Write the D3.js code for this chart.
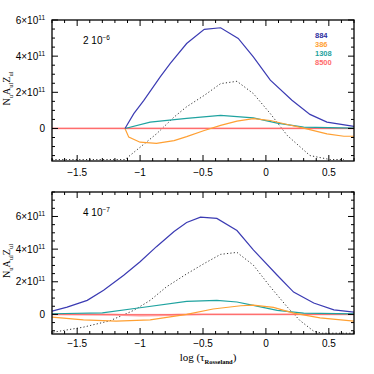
<!DOCTYPE html>
<html><head><meta charset="utf-8">
<script src="https://cdn.jsdelivr.net/npm/d3@7"></script>
<style>body{margin:0;background:#fff}svg{display:block}</style>
</head><body>
<script>
// ---- data (x = log tau_Ross, y in units of 1e11) ----
const xTicks = [-1.5, -1, -0.5, 0, 0.5];
const xTickLabels = ["\u22121.5", "\u22121", "\u22120.5", "0", "0.5"];
const legendLabels = ["884", "386", "1308", "8500"];
const legendColors = ["#2e2e9e", "#ffa033", "#1fa3a0", "#ff6b6b"];
const panelLabels = [["2 10", "\u22126"], ["4 10", "\u22127"]];
const topYTicks = [0, 2, 4, 6];
const botYTicks = [0, 2, 4, 6];

const blueTop = [[-1.12,0],[-1.05,0.82],[-0.97,1.55],[-0.84,2.85],[-0.76,3.6],[-0.63,4.7],[-0.49,5.48],[-0.36,5.57],[-0.22,4.98],[-0.10,3.96],[0.035,2.67],[0.207,1.56],[0.35,0.78],[0.485,0.35],[0.70,0.11]];
const dotTop = [[-1.7,-1.72],[-1.12,-1.72],[-1.0,-1.04],[-0.87,-0.3],[-0.73,0.63],[-0.63,1.2],[-0.49,1.83],[-0.36,2.48],[-0.23,2.61],[-0.10,1.93],[0.035,0.82],[0.17,-0.39],[0.35,-1.5],[0.51,-1.72],[0.62,-1.72]];
const tealTop = [[-1.12,0],[-0.92,0.35],[-0.63,0.56],[-0.36,0.72],[-0.1,0.59],[0.09,0.3],[0.3,0.07],[0.7,0.02]];
const orangeTop = [[-1.12,0],[-1.09,-0.48],[-1.0,-0.76],[-0.87,-0.82],[-0.73,-0.67],[-0.63,-0.45],[-0.49,-0.11],[-0.36,0.17],[-0.23,0.41],[-0.1,0.54],[0.035,0.44],[0.17,0.22],[0.3,0.02],[0.485,-0.3],[0.62,-0.43],[0.7,-0.43]];
const redTop = [[-1.7,0],[-1.12,0],[-0.6,0.01],[0,0.01],[0.7,0]];

const blueBot = [[-1.7,0.2],[-1.58,0.45],[-1.42,0.86],[-1.29,1.48],[-1.13,2.4],[-1.0,3.23],[-0.87,4.15],[-0.73,5.08],[-0.63,5.63],[-0.52,5.96],[-0.39,5.88],[-0.23,5.14],[-0.1,3.95],[0.09,2.4],[0.22,1.37],[0.38,0.7],[0.54,0.28],[0.7,0.14]];
const dotBot = [[-1.69,-1.09],[-1.45,-0.78],[-1.24,-0.39],[-1.05,0.25],[-0.92,0.86],[-0.79,1.69],[-0.63,2.48],[-0.49,3.12],[-0.36,3.68],[-0.23,3.8],[-0.1,3.02],[0.035,1.69],[0.17,0.45],[0.27,-0.37],[0.38,-1.03],[0.45,-1.15],[0.7,-1.15]];
const tealBot = [[-1.7,0.04],[-1.3,0.1],[-1.0,0.41],[-0.63,0.8],[-0.39,0.86],[-0.23,0.76],[-0.1,0.55],[0.09,0.25],[0.3,0.08],[0.7,0.03]];
const orangeBot = [[-1.7,-0.17],[-1.45,-0.33],[-1.19,-0.41],[-0.92,-0.33],[-0.63,0],[-0.42,0.33],[-0.2,0.53],[-0.1,0.57],[0.06,0.43],[0.22,0.08],[0.43,-0.21],[0.7,-0.41]];
const redBot = [[-1.7,0],[-1.2,-0.02],[-1.0,-0.07],[-0.85,-0.06],[-0.7,-0.02],[-0.5,0],[0.7,0]];

const W = 374, H = 374;
const svg = d3.select("body").append("svg").attr("width", W).attr("height", H);

const panels = [
  {top: 20, bottom: 161, ydom: [-1.8, 6], yt: topYTicks, series: [blueTop, orangeTop, tealTop, redTop], dots: dotTop, label: panelLabels[0], legend: true, tickY: 176},
  {top: 192, bottom: 334, ydom: [-1.2, 7.5], yt: botYTicks, series: [blueBot, orangeBot, tealBot, redBot], dots: dotBot, label: panelLabels[1], legend: false, tickY: 347}
];
const left = 52, right = 354;
const x = d3.scaleLinear().domain([-1.7, 0.7]).range([left, right]);

panels.forEach((p, pi) => {
  const y = d3.scaleLinear().domain(p.ydom).range([p.bottom, p.top]);
  const g = svg.append("g");
  const cid = "clip" + pi;
  svg.append("clipPath").attr("id", cid).append("rect")
    .attr("x", left).attr("y", p.top).attr("width", right - left).attr("height", p.bottom - p.top);

  const line = d3.line().x(d => x(d[0])).y(d => y(d[1]));
  const cg = g.append("g").attr("clip-path", `url(#${cid})`);
  cg.append("path").attr("d", line(p.dots)).attr("fill", "none")
    .attr("stroke", "#333").attr("stroke-width", 1).attr("stroke-dasharray", "1.2,2.2");
  cg.append("path").attr("d", line(p.series[3])).attr("fill", "none")
    .attr("stroke", "#ff9a9a").attr("stroke-width", 1.8);
  cg.append("path").attr("d", line([[-1.7,0],[0.7,0]])).attr("fill", "none")
    .attr("stroke", legendColors[3]).attr("stroke-width", 1);
  [2, 1, 0].forEach(i => {
    cg.append("path").attr("d", line(p.series[i])).attr("fill", "none")
      .attr("stroke", i === 0 ? "#3b3bb3" : legendColors[i]).attr("stroke-width", 1.2);
  });

  g.append("rect").attr("x", left).attr("y", p.top).attr("width", right - left).attr("height", p.bottom - p.top)
    .attr("fill", "none").attr("stroke", "#000").attr("stroke-width", 1.3);

  const xMinor = d3.range(-17, 8).map(v => v / 10);
  xMinor.forEach(v => {
    const major = Math.abs(v * 2 - Math.round(v * 2)) < 1e-6;
    const len = major ? 6 : 3;
    const xx = x(v);
    g.append("line").attr("x1", xx).attr("x2", xx).attr("y1", p.bottom).attr("y2", p.bottom - len).attr("stroke", "#000").attr("stroke-width", 1);
    g.append("line").attr("x1", xx).attr("x2", xx).attr("y1", p.top).attr("y2", p.top + len).attr("stroke", "#000").attr("stroke-width", 1);
  });
  const yMinor = d3.range(Math.ceil(p.ydom[0] * 2), Math.floor(p.ydom[1] * 2) + 1).map(v => v / 2);
  yMinor.forEach(v => {
    const major = Math.abs(v / 2 - Math.round(v / 2)) < 1e-6;
    const len = major ? 6 : 3;
    const yy = y(v);
    g.append("line").attr("x1", left).attr("x2", left + len).attr("y1", yy).attr("y2", yy).attr("stroke", "#000").attr("stroke-width", 1);
    g.append("line").attr("x1", right).attr("x2", right - len).attr("y1", yy).attr("y2", yy).attr("stroke", "#000").attr("stroke-width", 1);
  });

  xTicks.forEach((v, i) => {
    g.append("text").attr("x", x(v)).attr("y", p.tickY).attr("text-anchor", "middle")
      .attr("font-family", "Liberation Sans, Arial, sans-serif").attr("font-size", 10).text(xTickLabels[i]);
  });
  p.yt.forEach(v => {
    const t = g.append("text").attr("x", 45).attr("y", y(v) + 3.5).attr("text-anchor", "end")
      .attr("font-family", "Liberation Sans, Arial, sans-serif").attr("font-size", 10);
    if (v === 0) { t.text("0"); }
    else {
      t.append("tspan").text(v + "\u00d710");
      t.append("tspan").attr("dy", -4).attr("font-size", 6.5).text("11");
    }
  });

  const yc = (p.top + p.bottom) / 2 - 2;
  const yt = g.append("text").attr("transform", `translate(10,${yc}) rotate(-90)`).attr("text-anchor", "middle")
    .attr("font-family", "Liberation Serif, Times New Roman, serif").attr("font-size", 10);
  yt.append("tspan").text("N");
  yt.append("tspan").attr("dy", 2.5).attr("font-size", 6.5).text("u");
  yt.append("tspan").attr("dy", -2.5).text("A");
  yt.append("tspan").attr("dy", 2.5).attr("font-size", 6.5).text("ul");
  yt.append("tspan").attr("dy", -2.5).text("Z");
  yt.append("tspan").attr("dy", 2.5).attr("font-size", 6.5).text("ul");

  const at = g.append("text").attr("x", 83).attr("y", p.top + 24)
    .attr("font-family", "Liberation Sans, Arial, sans-serif").attr("font-size", 10);
  at.append("tspan").text(p.label[0]);
  at.append("tspan").attr("dy", -4).attr("font-size", 6.5).text(p.label[1]);

  if (p.legend) {
    legendLabels.forEach((l, i) => {
      g.append("text").attr("x", 315).attr("y", 38 + i * 9).attr("font-family", "Liberation Sans, Arial, sans-serif")
        .attr("font-size", 7.5).attr("font-weight", "bold").attr("fill", legendColors[i]).text(l);
    });
  }
});

const xt = svg.append("text").attr("x", 208).attr("y", 361).attr("text-anchor", "middle")
  .attr("font-family", "Liberation Serif, Times New Roman, serif").attr("font-size", 11);
xt.append("tspan").text("log (\u03c4");
xt.append("tspan").attr("dy", 2.5).attr("font-size", 6.5).attr("font-weight", "bold").text("Rosseland");
xt.append("tspan").attr("dy", -2.5).text(")");
</script>
</body></html>
